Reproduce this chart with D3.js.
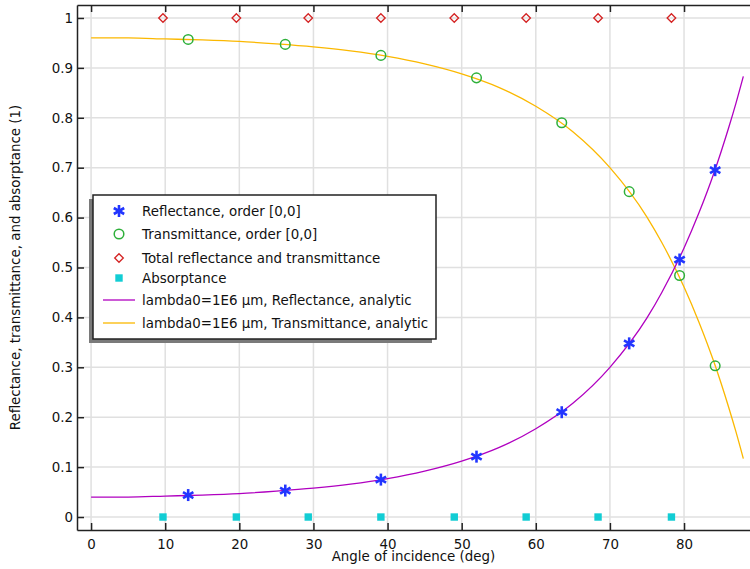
<!DOCTYPE html>
<html>
<head>
<meta charset="utf-8">
<script src="https://cdn.jsdelivr.net/npm/d3@7"></script>
<style>
  body { margin: 0; background: #fff; }
  svg { font-family: "DejaVu Sans", sans-serif; }
</style>
</head>
<body>
<svg id="chart"></svg>
<script>
// points
var pointAngles = [13.1, 26.2, 39.1, 52.0, 63.5, 72.6, 79.4, 84.2];
var reflectance = [0.044, 0.053, 0.075, 0.121, 0.210, 0.348, 0.516, 0.695];
var transmittance = [0.957, 0.947, 0.925, 0.880, 0.790, 0.652, 0.484, 0.303];

var totalAngles = [9.7, 19.6, 29.3, 39.1, 49.0, 58.7, 68.4, 78.3];
var total = [1, 1, 1, 1, 1, 1, 1, 1];
var absorptance = [0, 0, 0, 0, 0, 0, 0, 0];

// analytic curves
var curveAngles = [0, 5, 10, 15, 20, 25, 30, 35, 40, 45, 50, 55, 60, 65, 70, 75, 77, 80, 82, 84, 85, 86, 87, 88];
var reflAnalytic = [0.040, 0.040, 0.042, 0.044, 0.047, 0.052, 0.058, 0.066, 0.077, 0.092, 0.112, 0.139,
  0.177, 0.228, 0.300, 0.399, 0.450, 0.539, 0.609, 0.688, 0.732, 0.779, 0.829, 0.883];
var transAnalytic = [0.960, 0.960, 0.958, 0.956, 0.953, 0.948, 0.942, 0.934, 0.923, 0.908, 0.888, 0.861,
  0.823, 0.772, 0.700, 0.601, 0.550, 0.461, 0.391, 0.312, 0.268, 0.221, 0.171, 0.117];

var xTicks = [0, 10, 20, 30, 40, 50, 60, 70, 80];
var yTicks = [0, 0.1, 0.2, 0.3, 0.4, 0.5, 0.6, 0.7, 0.8, 0.9, 1];

var legendLabels = [
  "Reflectance, order [0,0]",
  "Transmittance, order [0,0]",
  "Total reflectance and transmittance",
  "Absorptance",
  "lambda0=1E6 \u00b5m, Reflectance, analytic",
  "lambda0=1E6 \u00b5m, Transmittance, analytic"
];

var width = 750, height = 569;
var plotLeft = 77, plotRight = 750, plotTop = 5, plotBottom = 530;
var fontSize = 13.4;

var colBlue = "#2236ff", colGreen = "#2eb03a", colRed = "#d42222",
    colCyan = "#12cdd4", colMagenta = "#b000c0", colGold = "#fbb800";

var svg = d3.select("#chart").attr("width", width).attr("height", height);

var xScale = d3.scaleLinear().domain([-1.9, 88.9]).range([plotLeft, plotRight]);
var yScale = d3.scaleLinear().domain([-0.026, 1.026]).range([plotBottom, plotTop]);

// grid
svg.append("g").selectAll("line").data(xTicks).enter().append("line")
  .attr("x1", d => xScale(d)).attr("x2", d => xScale(d))
  .attr("y1", plotTop).attr("y2", plotBottom)
  .attr("stroke", "#e0e0e0").attr("stroke-width", 1.5);
svg.append("g").selectAll("line").data(yTicks).enter().append("line")
  .attr("x1", plotLeft).attr("x2", plotRight)
  .attr("y1", d => yScale(d)).attr("y2", d => yScale(d))
  .attr("stroke", "#e0e0e0").attr("stroke-width", 1.5);

// axes
var xAxis = svg.append("g").attr("transform", "translate(0," + plotBottom + ")")
  .call(d3.axisBottom(xScale).tickValues(xTicks).tickSizeInner(-7).tickSizeOuter(0).tickPadding(9));
var xTop = svg.append("g").attr("transform", "translate(0," + plotTop + ")")
  .call(d3.axisTop(xScale).tickValues(xTicks).tickSizeInner(-7).tickSizeOuter(0).tickFormat(""));
var yAxis = svg.append("g").attr("transform", "translate(" + plotLeft + ",0)")
  .call(d3.axisLeft(yScale).tickValues(yTicks).tickSizeInner(-7).tickSizeOuter(0).tickPadding(4)
    .tickFormat(d3.format("~g")));

[xAxis, xTop, yAxis].forEach(function(g) {
  g.select(".domain").attr("stroke", "#222").attr("stroke-width", 1.5);
  g.selectAll(".tick line").attr("stroke", "#222").attr("stroke-width", 1.5);
  g.selectAll("text").attr("font-size", fontSize).attr("fill", "#111")
    .attr("font-family", "DejaVu Sans, sans-serif");
});

svg.append("text")
  .attr("x", (plotLeft + plotRight) / 2).attr("y", 561)
  .attr("text-anchor", "middle").attr("font-size", fontSize).attr("fill", "#111")
  .text("Angle of incidence (deg)");
svg.append("text")
  .attr("transform", "translate(20," + ((plotTop + plotBottom) / 2) + ") rotate(-90)")
  .attr("text-anchor", "middle").attr("font-size", fontSize).attr("fill", "#111")
  .text("Reflectance, transmittance, and absorptance (1)");

// analytic lines
var line = d3.line().curve(d3.curveMonotoneX)
  .x(d => xScale(d[0])).y(d => yScale(d[1]));

svg.append("path").datum(curveAngles.map((a, i) => [a, transAnalytic[i]]))
  .attr("d", line).attr("fill", "none").attr("stroke", colGold).attr("stroke-width", 1.3);
svg.append("path").datum(curveAngles.map((a, i) => [a, reflAnalytic[i]]))
  .attr("d", line).attr("fill", "none").attr("stroke", colMagenta).attr("stroke-width", 1.3);

// marker helpers
function star(g, cx, cy) {
  var r = 6;
  [90, 30, 150].forEach(function(a) {
    var dx = r * Math.cos(a * Math.PI / 180), dy = r * Math.sin(a * Math.PI / 180);
    g.append("line").attr("x1", cx - dx).attr("y1", cy - dy).attr("x2", cx + dx).attr("y2", cy + dy)
      .attr("stroke", colBlue).attr("stroke-width", 2.6);
  });
}
function circle(g, cx, cy) {
  g.append("circle").attr("cx", cx).attr("cy", cy).attr("r", 4.8)
    .attr("fill", "none").attr("stroke", colGreen).attr("stroke-width", 1.5);
}
function diamond(g, cx, cy) {
  var s = 4.3;
  g.append("path").attr("d", "M" + cx + "," + (cy - s) + "L" + (cx + s) + "," + cy + "L" + cx + "," + (cy + s) + "L" + (cx - s) + "," + cy + "Z")
    .attr("fill", "none").attr("stroke", colRed).attr("stroke-width", 1.3);
}
function square(g, cx, cy) {
  g.append("rect").attr("x", cx - 3.7).attr("y", cy - 3.7).attr("width", 7.4).attr("height", 7.4)
    .attr("fill", colCyan);
}

var marks = svg.append("g");
totalAngles.forEach((a, i) => square(marks, xScale(a), yScale(absorptance[i])));
totalAngles.forEach((a, i) => diamond(marks, xScale(a), yScale(total[i])));
pointAngles.forEach((a, i) => circle(marks, xScale(a), yScale(transmittance[i])));
pointAngles.forEach((a, i) => star(marks, xScale(a), yScale(reflectance[i])));

// legend
var lg = svg.append("g");
lg.append("rect").attr("x", 89).attr("y", 199).attr("width", 343).attr("height", 144).attr("fill", "#7a7a7a");
lg.append("rect").attr("x", 93).attr("y", 195).attr("width", 343).attr("height", 144)
  .attr("fill", "#fff").attr("stroke", "#222").attr("stroke-width", 1.5);

var rowY = [211, 234, 258, 278, 300, 323];
var symX = 119;
star(lg, symX, rowY[0]);
circle(lg, symX, rowY[1]);
diamond(lg, symX, rowY[2]);
square(lg, symX, rowY[3]);
lg.append("line").attr("x1", 103).attr("x2", 135).attr("y1", rowY[4]).attr("y2", rowY[4])
  .attr("stroke", colMagenta).attr("stroke-width", 1.3);
lg.append("line").attr("x1", 103).attr("x2", 135).attr("y1", rowY[5]).attr("y2", rowY[5])
  .attr("stroke", colGold).attr("stroke-width", 1.3);

lg.selectAll("text.leg").data(legendLabels).enter().append("text")
  .attr("class", "leg")
  .attr("x", 142).attr("y", (d, i) => rowY[i] + 4.6)
  .attr("font-size", fontSize).attr("fill", "#111")
  .text(d => d);
</script>
</body>
</html>
